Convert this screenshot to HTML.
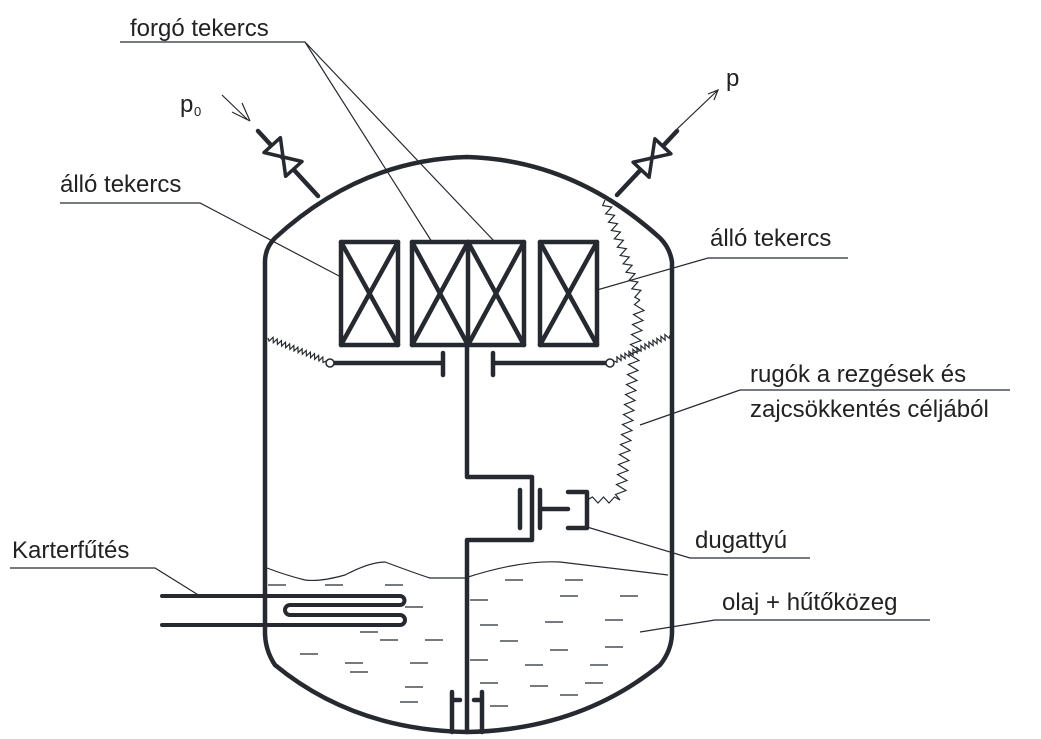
<!DOCTYPE html>
<html><head><meta charset="utf-8"><style>
html,body{margin:0;padding:0;background:#fff}
svg{display:block}
text{font-family:"Liberation Sans",sans-serif;fill:#222}
</style></head><body>
<svg id="s" width="1041" height="739" viewBox="0 0 1041 739" xmlns="http://www.w3.org/2000/svg">
<g fill="none" stroke="#262a30" stroke-width="4.5" stroke-linecap="round" stroke-linejoin="round">
<path d="M265,632 L265,262 Q265,248 275,238 Q360,160 467,157 Q574,160 660,238 Q670,248 672,262 L672,632 Q672,650 660,665 Q580,730 467,732 Q354,730 275,665 Q265,650 265,632"/>
<rect x="341" y="242" width="57" height="103"/>
<rect x="412" y="242" width="112" height="103"/>
<line x1="468" y1="242" x2="468" y2="345"/>
<rect x="540" y="242" width="57" height="103"/>
<path d="M341,242 L398,345 M398,242 L341,345 M412,242 L468,345 M468,242 L412,345 M468,242 L524,345 M524,242 L468,345 M540,242 L597,345 M597,242 L540,345"/>
<path d="M467,345 L467,477 L532,477 L532,540 L467,540 L467,732"/>
<path d="M330,363 L443,363 M443,353 L443,375 M493,363 L610,363 M493,353 L493,375"/>
<path d="M520,490 L520,528 M540,490 L540,528 M540,509 L568,509 M568,492 L587,492 L587,528 L568,528"/>
<path d="M452,732 L452,692 M452,700 L460,700 M482,732 L482,692 M482,700 L474,700"/>
<path d="M162,596 L400,596 A4.5,4.5 0 0 1 400,605 L290,605 A5,5 0 0 0 290,615 L400,615 A5,5 0 0 1 400,625 L162,625" stroke-width="4"/>
<path d="M258,131 L318,196 M617,195 L677,131"/>
</g>
<g fill="#fff" stroke="#262a30" stroke-width="3.5" stroke-linejoin="round">
<path d="M264,152.5 L280.4,137.7 L283,157 Z"/><path d="M285.6,176.3 L302,161.5 L283,157 Z"/>
<path d="M649.1,177.2 L633.1,162.2 L652,158 Z"/><path d="M670.9,153.8 L654.9,138.8 L652,158 Z"/>
</g>
<g fill="#fff" stroke="#262a30" stroke-width="1.5">
<circle cx="330" cy="363" r="4"/><circle cx="610" cy="363" r="4"/>
</g>
<g fill="none" stroke="#262a30" stroke-width="1.2" id="thin">
<path d="M120,42 L305,42 L432,242 M305,42 L495,242"/>
<path d="M60,203 L200,203 L341,277"/>
<path d="M848,258 L708,258 L597,290"/>
<path d="M1010,390 L740,390 L640,425"/>
<path d="M810,558 L690,558 L587,527"/>
<path d="M10,568 L155,568 L200,596"/>
<path d="M930,620 L715,620 L640,632"/>
<path d="M222,95 L248,120 M242,103 L250,121 M232,112 L250,121"/>
<path d="M676,130 L718,90 M708,94 L718,90 L714,100"/>
<path d="M267,568 Q285,575 305,580 Q320,582 345,575 Q370,562 385,562 Q420,575 430,578 L465,578 Q520,560 560,562 L668,575"/>
<g id="dash"></g>
</g>
<text x="130" y="36" font-size="24">forgó tekercs</text>
<text x="180" y="112" font-size="24">p</text><text x="194" y="116" font-size="13">0</text>
<text x="726" y="86" font-size="24">p</text>
<text x="60" y="192" font-size="24">álló tekercs</text>
<text x="710" y="246" font-size="24">álló tekercs</text>
<text x="750" y="382" font-size="24">rugók a rezgések és</text>
<text x="750" y="417" font-size="24">zajcsökkentés céljából</text>
<text x="695" y="548" font-size="24">dugattyú</text>
<text x="12" y="558" font-size="24">Karterfűtés</text>
<text x="722" y="610" font-size="24">olaj + hűtőközeg</text>
</svg>
<script>
var s=document.getElementById('thin');
function zz(x1,y1,x2,y2,n,a){var dx=x2-x1,dy=y2-y1,L=Math.hypot(dx,dy),nx=-dy/L,ny=dx/L,d="M"+x1+","+y1;
for(var i=1;i<n;i++){var t=i/n,sg=(i%2?1:-1)*a;d+=" L"+(x1+dx*t+nx*sg).toFixed(1)+","+(y1+dy*t+ny*sg).toFixed(1);}
d+=" L"+x2+","+y2;var p=document.createElementNS("http://www.w3.org/2000/svg","path");p.setAttribute("d",d);s.appendChild(p);}
zz(605,200,640,300,24,4);zz(640,300,620,500,40,5);zz(620,500,587,500,6,3);
zz(268,338,326,361,28,2.5);zz(614,361,670,335,28,2.5);
var g=document.getElementById('dash');
var ds=[[268,585],[325,585],[385,585],[505,580],[565,580],[360,632],[405,607],[470,600],[560,596],[620,596],[380,640],[480,625],[545,622],[605,620],[425,640],[500,641],[550,650],[605,647],[300,654],[345,663],[410,663],[470,660],[525,665],[590,665],[350,672],[405,687],[480,683],[530,686],[585,683],[400,702],[490,706],[560,695]];
ds.forEach(function(q){var l=document.createElementNS("http://www.w3.org/2000/svg","line");l.setAttribute("x1",q[0]);l.setAttribute("y1",q[1]);l.setAttribute("x2",q[0]+18);l.setAttribute("y2",q[1]);g.appendChild(l);});
</script>
</body></html>
